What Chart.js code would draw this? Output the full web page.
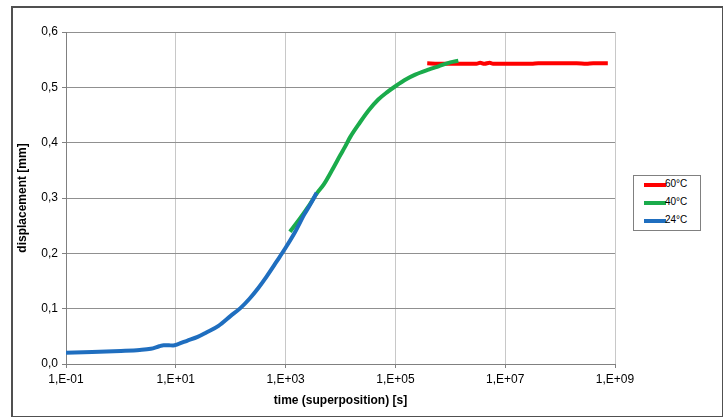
<!DOCTYPE html>
<html>
<head>
<meta charset="utf-8">
<script src="https://cdn.jsdelivr.net/npm/chart.js@4.4.0/dist/chart.umd.min.js"></script>
<style>
  html, body { margin: 0; padding: 0; background: #fff; }
  #wrap { position: relative; width: 723px; height: 417px; }
  #frame { position: absolute; left: 11px; top: 6px; width: 709px; height: 408px; border: 2px solid #505050; pointer-events: none; }
  #legend { position: absolute; left: 633px; top: 175px; width: 66px; height: 54px; border: 1px solid #808080; background: #fff;
    font-family: "Liberation Sans", Arial, sans-serif; font-size: 10px; color: #000; }
  .item { position: absolute; left: 10px; height: 12px; line-height: 12px; }
  .item span.sw { position: absolute; left: 0; top: 5px; width: 22px; height: 4px; }
  .item span.tx { position: absolute; left: 21px; top: 0; white-space: nowrap; }
</style>
</head>
<body>
<div id="wrap">
  <canvas id="c" width="723" height="417"></canvas>
  <div id="frame"></div>
  <div id="legend"></div>
</div>
<script>
// ---- data ----
const seriesNames = ["60°C", "40°C", "24°C"];
const seriesColors = ["#ff0000", "#1aab4b", "#1f6ebf"];

const blueX = [0.1, 0.3, 1, 2.2, 3.5, 5, 6, 7.5, 8.9, 11, 16, 25, 36, 60, 100, 150, 220, 316, 450, 684, 1000, 1480, 2180, 3000, 3680];
const blueY = [0.0205, 0.0215, 0.0235, 0.0253, 0.0275, 0.032, 0.034, 0.0338, 0.0335, 0.036, 0.042, 0.049, 0.057, 0.069, 0.087, 0.101, 0.118, 0.137, 0.158, 0.185, 0.210, 0.238, 0.270, 0.293, 0.3096];

const greenX = [1200, 1800, 2500, 3680, 5000, 7000, 10000, 12000, 15000, 22400, 33000, 48800, 70000, 100000, 160000, 230000, 400000, 610000, 1000000, 1400000];
const greenY = [0.239, 0.262, 0.282, 0.308, 0.325, 0.350, 0.378, 0.392, 0.410, 0.436, 0.459, 0.478, 0.491, 0.502, 0.515, 0.523, 0.532, 0.538, 0.545, 0.548];

const redX = [380000, 600000, 1000000, 2000000, 3000000, 3500000, 4200000, 5200000, 6000000, 1e7, 2e7, 3e7, 4e7, 5e7, 7e7, 1e8, 1.5e8, 2e8, 3e8, 4e8, 5e8, 7.4e8];
const redY = [0.5435, 0.5425, 0.5425, 0.5425, 0.5425, 0.5445, 0.5425, 0.5445, 0.5425, 0.5425, 0.5425, 0.5425, 0.5435, 0.5435, 0.5435, 0.5435, 0.5435, 0.5435, 0.5425, 0.5435, 0.5435, 0.5435];

const xTickValues = [0.1, 10, 1e3, 1e5, 1e7, 1e9];
const xTickLabels = ["1,E-01", "1,E+01", "1,E+03", "1,E+05", "1,E+07", "1,E+09"];
const yTickValues = [0, 0.1, 0.2, 0.3, 0.4, 0.5, 0.6];
const yTickLabels = ["0,0", "0,1", "0,2", "0,3", "0,4", "0,5", "0,6"];

function pts(xs, ys) { return xs.map((x, i) => ({ x: x, y: ys[i] })); }

const FONT = '"Liberation Sans", Arial, sans-serif';

const ctx = document.getElementById('c');
new Chart(ctx, {
  type: 'line',
  data: {
    datasets: [
      { label: seriesNames[0], data: pts(redX, redY), borderColor: seriesColors[0], borderWidth: 4, pointRadius: 0, cubicInterpolationMode: 'monotone', order: 3 },
      { label: seriesNames[1], data: pts(greenX, greenY), borderColor: seriesColors[1], borderWidth: 4, pointRadius: 0, cubicInterpolationMode: 'monotone', order: 2 },
      { label: seriesNames[2], data: pts(blueX, blueY), borderColor: seriesColors[2], borderWidth: 4, pointRadius: 0, cubicInterpolationMode: 'monotone', order: 1 }
    ]
  },
  options: {
    responsive: false,
    animation: false,
    events: [],
    layout: { padding: { left: 0, top: 32, right: 108, bottom: 0 } },
    plugins: { legend: { display: false }, tooltip: { enabled: false } },
    scales: {
      x: {
        type: 'logarithmic',
        min: 0.1, max: 1e9,
        afterBuildTicks: (s) => { s.ticks = xTickValues.map(v => ({ value: v })); },
        afterFit: (s) => { s.height = 53; },
        ticks: {
          autoSkip: false, maxRotation: 0, padding: 4,
          color: '#000', font: { family: FONT, size: 12 },
          callback: (v) => { const i = xTickValues.findIndex(t => Math.abs(Math.log10(t) - Math.log10(v)) < 1e-6); return i >= 0 ? xTickLabels[i] : ''; }
        },
        grid: { color: '#c8c8c8', lineWidth: 1, tickColor: '#808080', tickLength: 4, drawOnChartArea: true },
        border: { color: '#808080', width: 1 },
        title: { display: true, text: 'time (superposition) [s]', color: '#000', font: { family: FONT, size: 12, weight: 'bold' }, padding: { top: 0, bottom: 9 } }
      },
      y: {
        min: 0, max: 0.6,
        afterBuildTicks: (s) => { s.ticks = yTickValues.map(v => ({ value: v })); },
        afterFit: (s) => { s.width = 66; },
        ticks: {
          padding: 4, color: '#000', font: { family: FONT, size: 12 },
          callback: (v) => { const i = yTickValues.findIndex(t => Math.abs(t - v) < 1e-9); return i >= 0 ? yTickLabels[i] : ''; }
        },
        grid: { color: '#909090', lineWidth: 1, tickColor: '#808080', tickLength: 4 },
        border: { color: '#808080', width: 1 },
        title: { display: true, text: 'displacement [mm]', color: '#000', font: { family: FONT, size: 12, weight: 'bold' }, padding: { top: 15, bottom: 0 } }
      }
    }
  }
});

// HTML legend
const lg = document.getElementById('legend');
const tops = [2, 20, 38];
seriesNames.forEach((n, i) => {
  const d = document.createElement('div');
  d.className = 'item';
  d.style.top = tops[i] + 'px';
  d.innerHTML = '<span class="sw" style="background:' + seriesColors[i] + '"></span><span class="tx">' + n + '</span>';
  lg.appendChild(d);
});
</script>
</body>
</html>
